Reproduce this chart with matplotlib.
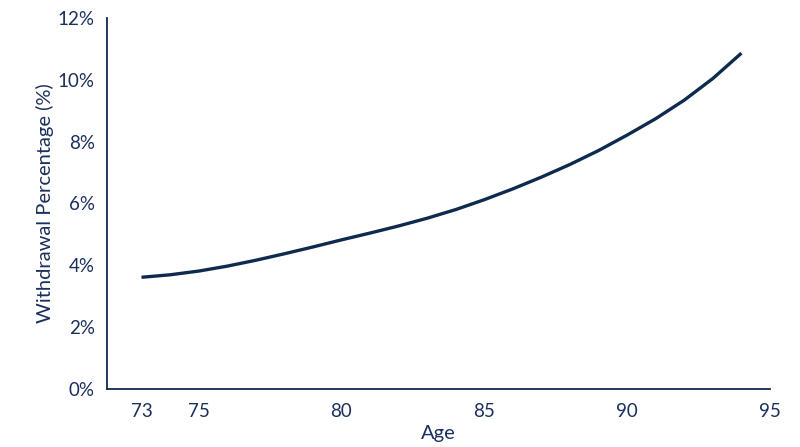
import matplotlib
matplotlib.use("Agg")
import matplotlib.pyplot as plt
from matplotlib.ticker import FuncFormatter

ages = [73, 74, 75, 76, 77, 78, 79, 80, 81, 82, 83, 84, 85, 86, 87, 88, 89, 90, 91, 92, 93, 94]
withdrawal_pct = [3.61, 3.69, 3.81, 3.97, 4.16, 4.37, 4.59, 4.82, 5.04, 5.27, 5.52, 5.80,
                  6.12, 6.47, 6.85, 7.26, 7.71, 8.21, 8.74, 9.34, 10.04, 10.86]
x_ticks = [73, 75, 80, 85, 90, 95]
y_ticks = [0, 2, 4, 6, 8, 10, 12]

navy = "#0f2a4f"
text_col = "#1b2f5c"
plt.rcParams['font.family'] = ['Lato', 'DejaVu Sans']

fig = plt.figure(figsize=(8, 4.47), dpi=100)
ax = fig.add_axes([0.134, 0.130, 0.8285, 0.830])
ax.plot(ages, withdrawal_pct, color=navy, linewidth=2.4, solid_capstyle='butt',
        solid_joinstyle='round')

ax.set_xlim(71.8, 95)
ax.set_ylim(0, 12)
ax.set_xticks(x_ticks)
ax.set_yticks(y_ticks)
ax.yaxis.set_major_formatter(FuncFormatter(lambda v, p: f"{int(v)}%"))
ax.tick_params(axis='both', length=0, labelsize=13.5, colors=text_col)
ax.tick_params(axis='x', pad=10)
ax.tick_params(axis='y', pad=9)
for s in ['top', 'right']:
    ax.spines[s].set_visible(False)
for s in ['left', 'bottom']:
    ax.spines[s].set_color(navy)
    ax.spines[s].set_linewidth(1.3)

ax.set_xlabel("Age", fontsize=14.5, color=text_col, labelpad=4)
ax.set_ylabel("Withdrawal Percentage (%)", fontsize=14.5, color=text_col, labelpad=3)

fig.savefig("out.png", dpi=100, facecolor="white")
